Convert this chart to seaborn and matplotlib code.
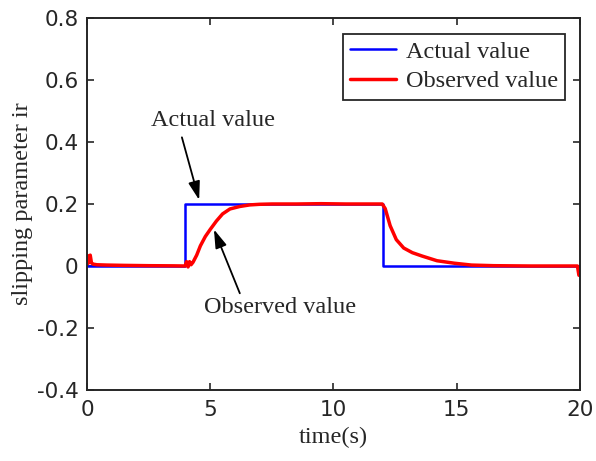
import matplotlib
matplotlib.use("Agg")
import matplotlib.pyplot as plt
import seaborn as sns
import pandas as pd

# Reference (actual) slipping parameter: step up at 4 s, step down at 12 s
actual_t = [0.0, 3.98, 3.98, 12.02, 12.02, 20.0]
actual_v = [0.0, 0.0, 0.2, 0.2, 0.0, 0.0]

# Observer estimate of the slipping parameter
observed_t = [0.0, 0.04, 0.08, 0.13, 0.18, 0.25, 0.4, 0.8, 1.5, 2.5, 3.5,
              3.98, 4.04, 4.1, 4.16, 4.22, 4.3, 4.45, 4.6, 4.8, 5.0, 5.25,
              5.5, 5.8, 6.2, 6.6, 7.0, 7.5, 8.5, 9.5, 10.5, 11.5, 11.98,
              12.1, 12.3, 12.55, 12.85, 13.2, 13.6, 14.2, 14.9, 15.6, 16.5,
              18.0, 19.9, 19.96, 20.0]
observed_v = [0.035, 0.008, 0.028, 0.035, 0.01, 0.006, 0.004, 0.003, 0.002,
              0.001, 0.0005, 0.0, 0.014, -0.003, 0.014, 0.004, 0.012, 0.035,
              0.065, 0.095, 0.118, 0.145, 0.168, 0.184, 0.192, 0.197, 0.199,
              0.2, 0.2, 0.201, 0.2, 0.2, 0.2, 0.185, 0.13, 0.085, 0.058,
              0.043, 0.032, 0.017, 0.009, 0.003, 0.001, 0.0, 0.0, -0.03,
              -0.03]

x_ticks = [0, 5, 10, 15, 20]
y_ticks = [-0.4, -0.2, 0, 0.2, 0.4, 0.6, 0.8]
y_tick_labels = ["-0.4", "-0.2", "0", "0.2", "0.4", "0.6", "0.8"]

sns.set_style("ticks")
plt.rcParams["font.family"] = ["DejaVu Sans"]

serif = "Liberation Serif"
text_size = 17.5

fig = plt.figure(figsize=(5.96, 4.61), dpi=100)
ax = fig.add_axes([0.146, 0.154, 0.827, 0.807])

actual_df = pd.DataFrame({"t": actual_t, "v": actual_v})
observed_df = pd.DataFrame({"t": observed_t, "v": observed_v})

sns.lineplot(data=actual_df, x="t", y="v", ax=ax, color="#0000ff",
             linewidth=1.8, estimator=None, sort=False, label="Actual value")
sns.lineplot(data=observed_df, x="t", y="v", ax=ax, color="#ff0000",
             linewidth=2.5, estimator=None, sort=False, label="Observed value")

ax.set_xlim(0, 20)
ax.set_ylim(-0.4, 0.8)
ax.set_xticks(x_ticks)
ax.set_yticks(y_ticks)
ax.set_yticklabels(y_tick_labels)

ax.tick_params(direction="in", length=5, width=1.2, labelsize=15.5,
               top=True, right=True, colors="#262626", labelcolor="#262626")
ax.tick_params(axis="x", pad=7)
ax.tick_params(axis="y", pad=6)
for side in ax.spines.values():
    side.set_visible(True)
    side.set_linewidth(1.4)
    side.set_color("#262626")

ax.set_xlabel("time(s)", fontfamily=serif, fontsize=text_size, labelpad=5)
ax.set_ylabel("slipping parameter ir", fontfamily=serif, fontsize=text_size,
              labelpad=3)

leg = ax.legend(loc="upper right", prop={"family": serif, "size": text_size},
                frameon=True, fancybox=False, edgecolor="#262626",
                framealpha=1, handlelength=1.9, handletextpad=0.4,
                borderpad=0.3, labelspacing=0.3, borderaxespad=0,
                bbox_to_anchor=(0.97, 0.958))
leg.get_frame().set_linewidth(1.3)

arrow = dict(arrowstyle="-|>,head_length=0.7,head_width=0.22",
             color="black", lw=1.3, mutation_scale=16, shrinkA=0, shrinkB=0)
ax.annotate("", xy=(4.55, 0.213), xytext=(3.85, 0.415), arrowprops=arrow)
ax.text(5.1, 0.47, "Actual value", fontfamily=serif, fontsize=text_size,
        ha="center", va="center")
ax.annotate("", xy=(5.15, 0.118), xytext=(6.2, -0.088), arrowprops=arrow)
ax.text(7.85, -0.135, "Observed value", fontfamily=serif, fontsize=text_size,
        ha="center", va="center")

fig.savefig("out.png", dpi=100)
